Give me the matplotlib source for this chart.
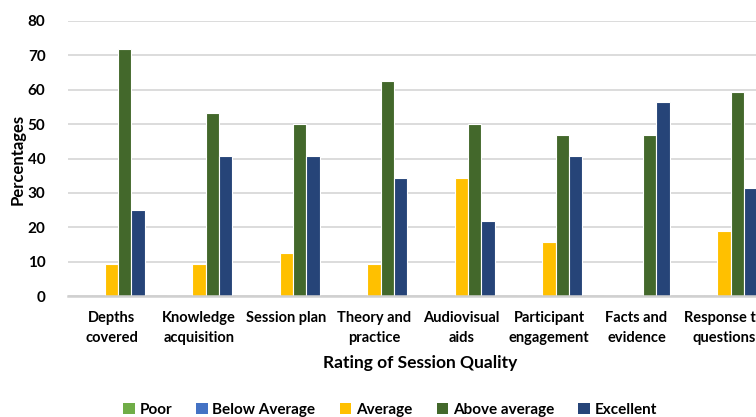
import matplotlib
matplotlib.use("Agg")
import matplotlib.pyplot as plt
import numpy as np
from matplotlib.patches import Patch

plt.rcParams['font.family'] = ['Lato', 'DejaVu Sans']
plt.rcParams['font.weight'] = 'bold'

categories = ["Depths\ncovered", "Knowledge\nacquisition", "Session plan",
              "Theory and\npractice", "Audiovisual\naids", "Participant\nengagement",
              "Facts and\nevidence", "Response to\nquestions"]
series_names = ["Poor", "Below Average", "Average", "Above average", "Excellent"]
poor = [0, 0, 0, 0, 0, 0, 0, 0]
below_average = [0, 0, 0, 0, 0, 0, 0, 0]
average = [9.4, 9.4, 12.5, 9.4, 34.4, 15.6, 0, 18.8]
above_average = [71.9, 53.1, 50.0, 62.5, 50.0, 46.9, 46.9, 59.4]
excellent = [25.0, 40.6, 40.6, 34.4, 21.9, 40.6, 56.3, 31.3]
colors = ["#70AD47", "#4472C4", "#FFC000", "#43682B", "#264478"]
yticks = [0, 10, 20, 30, 40, 50, 60, 70, 80]

W, H = 756, 417
fig = plt.figure(figsize=(W / 100, H / 100), dpi=100)
left, right, bottom, top = 67.75, 767.75, 296, 21
ax = fig.add_axes([left / W, 1 - bottom / H, (right - left) / W, (bottom - top) / H])

x = np.arange(len(categories))
slot = 0.152
data = [poor, below_average, average, above_average, excellent]
for i, (vals, c) in enumerate(zip(data, colors)):
    ax.bar(x + (i - 2) * slot, vals, width=slot, color=c, edgecolor="white",
           linewidth=0.8, zorder=3)

ax.set_xlim(-0.5, len(categories) - 0.5)
ax.set_ylim(0, 80)
ax.set_yticks(yticks)
ax.set_yticklabels([str(t) for t in yticks], fontsize=11, fontweight='bold')
ax.set_xticks(x)
ax.set_xticklabels(categories, fontsize=10.5, fontweight='bold', linespacing=1.5)
ax.tick_params(axis='both', length=0)
ax.tick_params(axis='x', pad=11)
ax.tick_params(axis='y', pad=16)
ax.yaxis.grid(True, color="#D9D9D9", linewidth=1.3, zorder=0)
for s in ["top", "right", "left"]:
    ax.spines[s].set_visible(False)
ax.spines["bottom"].set_color("#D0D0D0")
ax.spines["bottom"].set_linewidth(1.8)
ax.spines["bottom"].set_zorder(4)

fig.text(17.5 / W, 1 - 159 / H, "Percentages", rotation=90, ha='center', va='center',
         fontsize=12, fontweight='bold')
fig.text(420 / W, 1 - 363 / H, "Rating of Session Quality", ha='center', va='center',
         fontsize=12.5, fontweight='bold')

handles = [Patch(facecolor=c, edgecolor='none') for c in colors]
fig.legend(handles, series_names, loc='center', bbox_to_anchor=(390 / W, 1 - 410 / H),
           ncol=5, frameon=False, handlelength=0.75, handleheight=0.75,
           handletextpad=0.3, columnspacing=1.6, prop={'weight': 'bold', 'size': 11})

fig.savefig("out.png", dpi=100)
